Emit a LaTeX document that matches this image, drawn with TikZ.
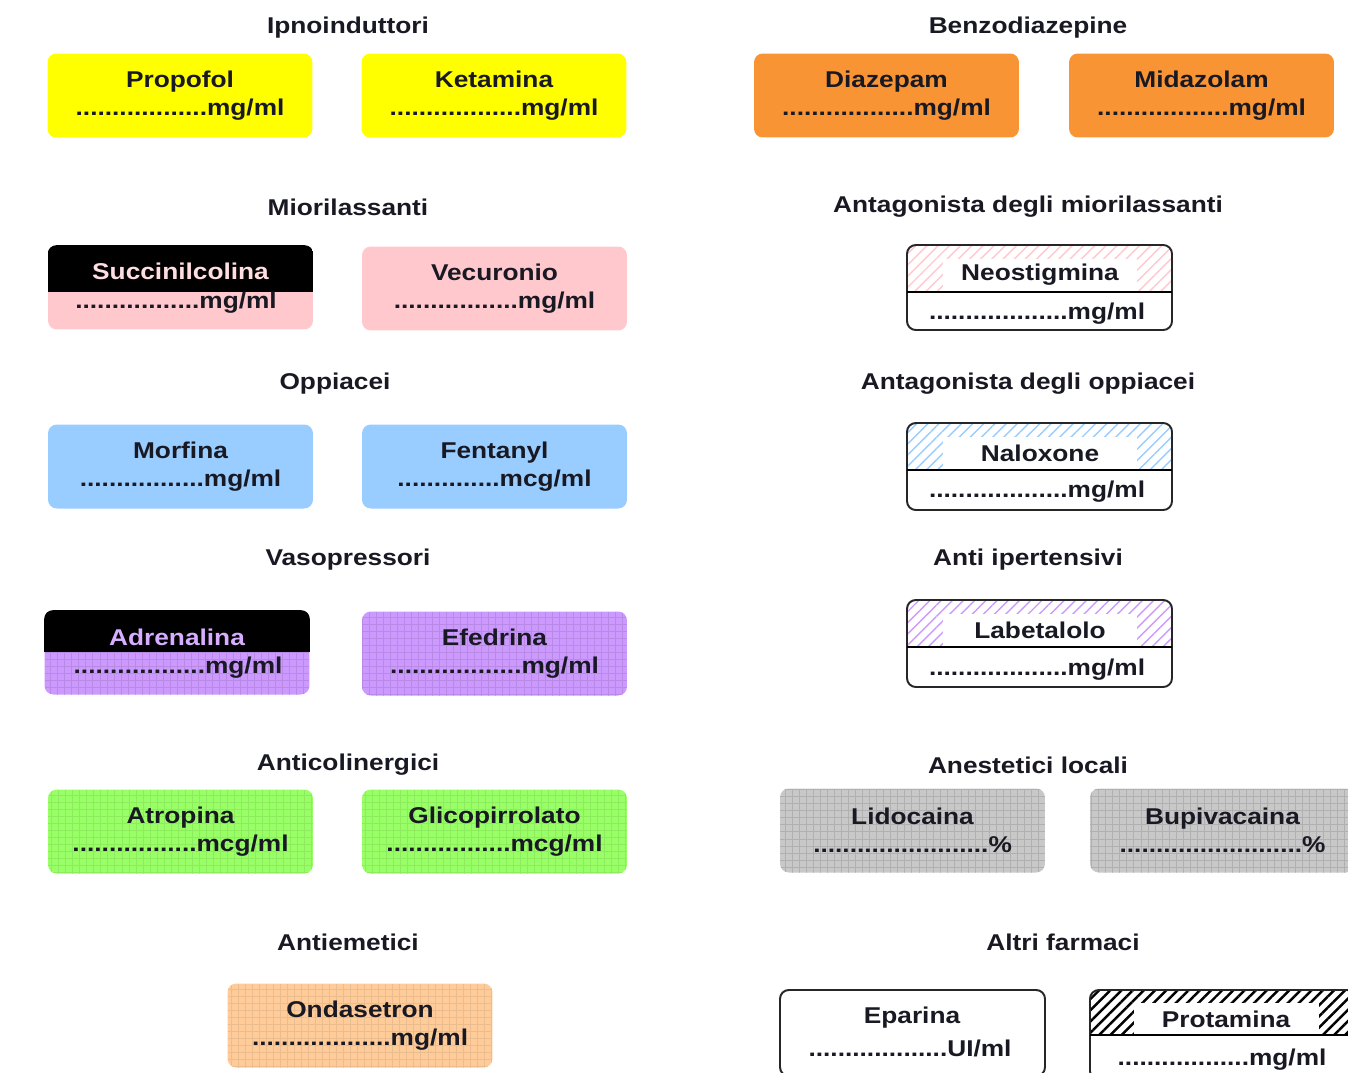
\documentclass[tikz,border=0pt]{standalone}
\usepackage{fontspec}
\setmainfont{Liberation Sans}[FakeStretch=1.15]
\usetikzlibrary{patterns.meta}

\definecolor{tagyellow}{RGB}{255,255,0}
\definecolor{tagorange}{RGB}{248,148,52}
\definecolor{tagpink}{RGB}{255,200,205}
\definecolor{tagblue}{RGB}{153,204,255}
\definecolor{tagpurple}{RGB}{204,153,255}
\definecolor{taggreen}{RGB}{153,255,102}
\definecolor{taggrey}{RGB}{200,200,200}
\definecolor{tagpeach}{RGB}{255,204,153}
\definecolor{tagtext}{RGB}{25,25,35}

\newcommand{\tagfont}{\bfseries\fontsize{13}{16}\selectfont}
\newcommand{\punti}[1]{\foreach \k in {1,...,#1}{.}}

\tikzset{
  tag/.style={rounded corners=5pt, minimum width=5.3cm, minimum height=1.68cm,
    inner sep=0pt, align=center, font=\tagfont, text=tagtext},
  head/.style={font=\tagfont, text=tagtext},
  txt/.style={font=\tagfont, text=tagtext, inner sep=0pt},
  gridded/.style={path picture={\draw[line width=0.2pt, draw=#1]
    (path picture bounding box.south west) grid[step=4pt] (path picture bounding box.north east);}},
  namebox/.style={fill=white, minimum width=3.9cm, minimum height=0.64cm, inner sep=0pt,
    font=\tagfont, text=tagtext},
  border/.style={draw=black!85, line width=1.1pt, rounded corners=5pt},
  hatch/.style={pattern={Lines[angle=45,distance=4.5pt,line width=#1]}},
}

\begin{document}
\begin{tikzpicture}[x=0.02cm, y=-0.02cm]
\useasboundingbox (0,0) rectangle (1348,1072);

% section titles
\node[head] (h-ipno) at (348,28) {Ipnoinduttori};
\node[head] (h-benzo) at (1028,28) {Benzodiazepine};
\node[head] (h-mio) at (348,207) {Miorilassanti};
\node[head] (h-antmio) at (1028,207) {Antagonista degli miorilassanti};
\node[head] (h-opp) at (335,384) {Oppiacei};
\node[head] (h-antopp) at (1028,384) {Antagonista degli oppiacei};
\node[head] (h-vaso) at (348,560) {Vasopressori};
\node[head] (h-antiip) at (1028,560) {Anti ipertensivi};
\node[head] (h-antichol) at (348,765) {Anticolinergici};
\node[head] (h-anest) at (1028,765) {Anestetici locali};
\node[head] (h-antiem) at (348,942) {Antiemetici};
\node[head] (h-altri) at (1063,942) {Altri farmaci};

% Ipnoinduttori / Benzodiazepine
\node[tag, fill=tagyellow] (propofol) at (180,95.5) {Propofol\\\punti{18}mg/ml};
\node[tag, fill=tagyellow] (ketamina) at (494,95.5) {Ketamina\\\punti{18}mg/ml};
\node[tag, fill=tagorange] (diazepam) at (886.5,95.5) {Diazepam\\\punti{18}mg/ml};
\node[tag, fill=tagorange] (midazolam) at (1201.5,95.5) {Midazolam\\\punti{18}mg/ml};

% Miorilassanti
\node[tag, fill=tagpink] (succinilcolina) at (180.5,287.5) {};
\begin{scope}
\clip[rounded corners=5pt] (succinilcolina.north west) rectangle (succinilcolina.south east);
\fill[black] (succinilcolina.north west) rectangle (succinilcolina.east |- 0,292);
\end{scope}
\node[txt, text=tagpink!60!white] (succinilcolina-name) at (180.5,271) {Succinilcolina};
\node[txt] (succinilcolina-dose) at (176,303) {\punti{17}mg/ml};
\node[tag, fill=tagpink] (vecuronio) at (494.5,288.5) {Vecuronio\\\punti{17}mg/ml};

% Antagonista degli miorilassanti
\begin{scope}
\clip[rounded corners=5pt] (907,245) rectangle (1172,330);
\fill[hatch=0.8pt, pattern color=tagpink] (907,245) rectangle (1172,292);
\end{scope}
\node[namebox] (neostigmina-name) at (1040,275) {Neostigmina};
\draw[border] (907,245) rectangle (1172,330);
\draw[line width=1.1pt] (907,292) -- (1172,292);
\node[txt] (neostigmina-dose) at (1037,314) {\punti{19}mg/ml};

% Oppiacei
\node[tag, fill=tagblue] (morfina) at (180.5,466.5) {Morfina\\\punti{17}mg/ml};
\node[tag, fill=tagblue] (fentanyl) at (494.5,466.5) {Fentanyl\\\punti{14}mcg/ml};

% Antagonista degli oppiacei
\begin{scope}
\clip[rounded corners=5pt] (907,423) rectangle (1172,510);
\fill[hatch=0.8pt, pattern color=tagblue] (907,423) rectangle (1172,470);
\end{scope}
\node[namebox] (naloxone-name) at (1040,453) {Naloxone};
\draw[border] (907,423) rectangle (1172,510);
\draw[line width=1.1pt] (907,470) -- (1172,470);
\node[txt] (naloxone-dose) at (1037,492) {\punti{19}mg/ml};

% Vasopressori
\node[tag, fill=tagpurple, gridded=tagpurple!90!black] (adrenalina) at (177,652.5) {};
\begin{scope}
\clip[rounded corners=5pt] (adrenalina.north west) rectangle (adrenalina.south east);
\fill[black] (adrenalina.north west) rectangle (adrenalina.east |- 0,652);
\end{scope}
\node[txt, text=tagpurple!80!white] (adrenalina-name) at (177,637) {Adrenalina};
\node[txt] (adrenalina-dose) at (178,668) {\punti{18}mg/ml};
\node[tag, fill=tagpurple, gridded=tagpurple!90!black] (efedrina) at (494.5,653.5) {Efedrina\\\punti{18}mg/ml};

% Anti ipertensivi
\begin{scope}
\clip[rounded corners=5pt] (907,600) rectangle (1172,687);
\fill[hatch=0.8pt, pattern color=tagpurple] (907,600) rectangle (1172,647);
\end{scope}
\node[namebox] (labetalolo-name) at (1040,630) {Labetalolo};
\draw[border] (907,600) rectangle (1172,687);
\draw[line width=1.1pt] (907,647) -- (1172,647);
\node[txt] (labetalolo-dose) at (1037,670) {\punti{19}mg/ml};

% Anticolinergici
\node[tag, fill=taggreen, gridded=taggreen!92!black] (atropina) at (180.5,831.5) {Atropina\\\punti{17}mcg/ml};
\node[tag, fill=taggreen, gridded=taggreen!92!black] (glicopirrolato) at (494.5,831.5) {Glicopirrolato\\\punti{17}mcg/ml};

% Anestetici locali
\node[tag, fill=taggrey, gridded=taggrey!88!black] (lidocaina) at (912.5,830.5) {Lidocaina\\\punti{24}\%};
\node[tag, fill=taggrey, gridded=taggrey!88!black] (bupivacaina) at (1222.5,830.5) {Bupivacaina\\\punti{25}\%};

% Antiemetici
\node[tag, fill=tagpeach, gridded=tagpeach!92!black] (ondasetron) at (360,1025.5) {Ondasetron\\\punti{19}mg/ml};

% Altri farmaci
\draw[border] (780,990) rectangle (1045,1076);
\node[txt] (eparina-name) at (912,1018) {Eparina};
\node[txt] (eparina-dose) at (910,1048) {\punti{19}UI/ml};
\begin{scope}
\clip[rounded corners=5pt] (1090,990) rectangle (1356,1080);
\fill[hatch=1.4pt, pattern color=black] (1090,990) rectangle (1356,1035);
\end{scope}
\node[namebox, minimum width=3.7cm] (protamina-name) at (1226,1019) {Protamina};
\draw[border] (1090,990) rectangle (1356,1080);
\draw[line width=1.1pt] (1090,1035) -- (1356,1035);
\node[txt] (protamina-dose) at (1222,1060) {\punti{18}mg/ml};

\end{tikzpicture}
\end{document}
